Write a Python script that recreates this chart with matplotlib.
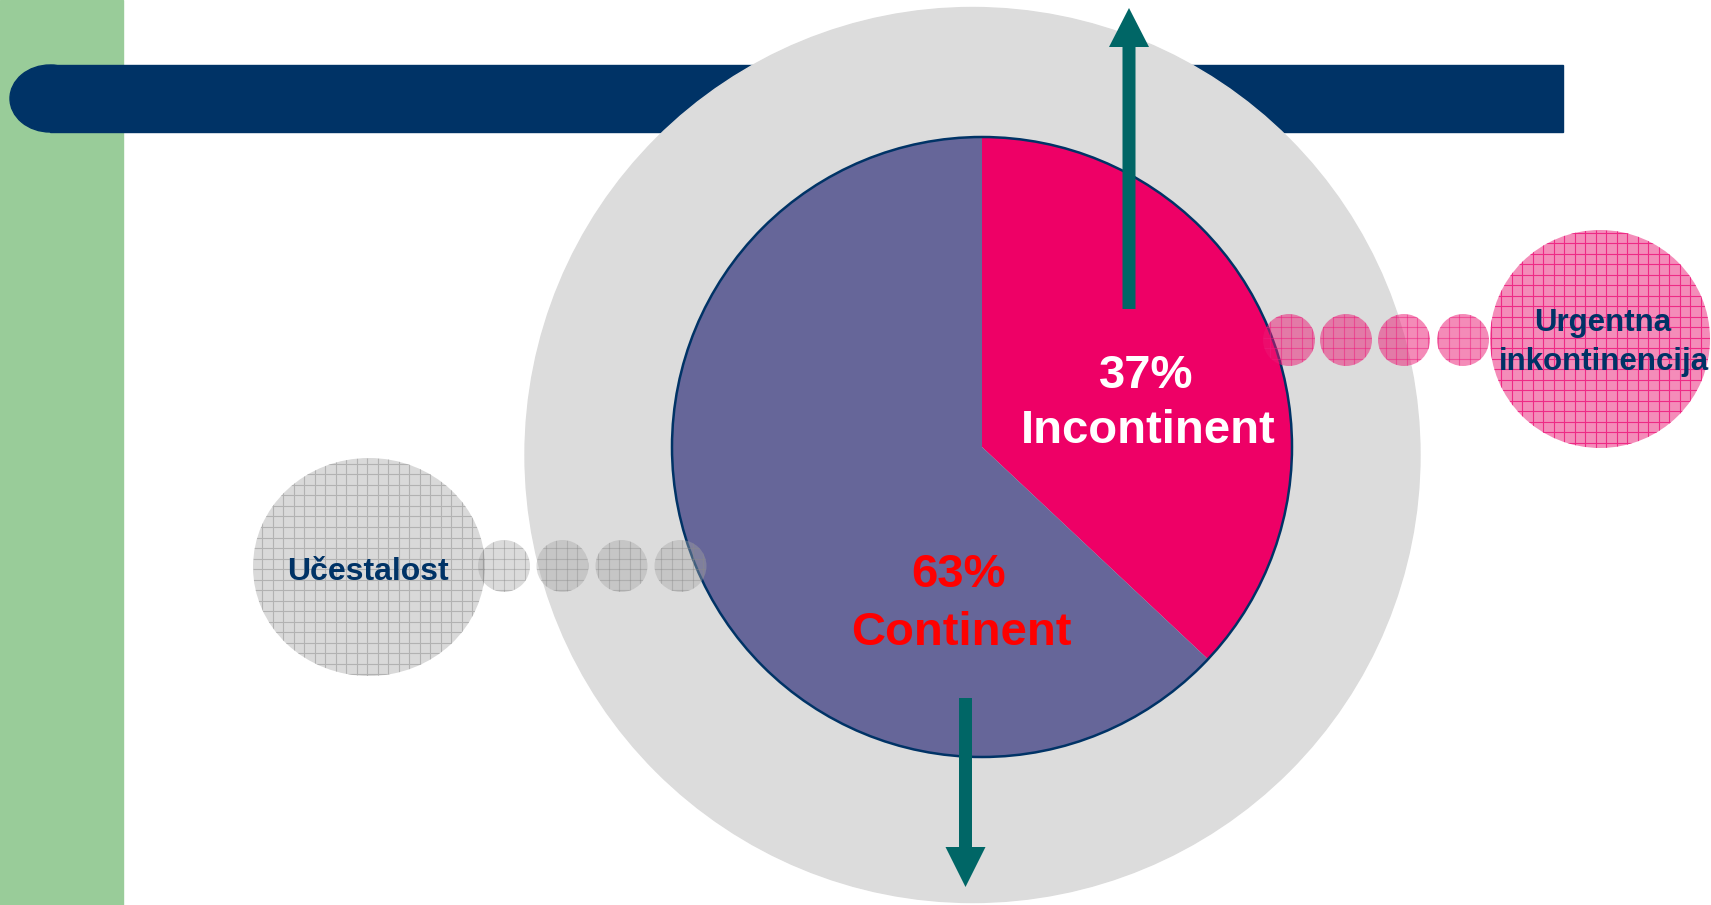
"""Incontinence share pie with frequency / urgency bubbles."""

import matplotlib

matplotlib.use("Agg")
import matplotlib.pyplot as plt
import numpy as np
from matplotlib.collections import LineCollection
from matplotlib.patches import Circle, Ellipse, Rectangle

W, H = 1711, 905

shares = [37, 63]
share_names = ["Incontinent", "Continent"]
share_colors = ["#EE0066", "#666699"]
share_text_colors = ["white", "#FF0000"]
left_topic = "Učestalost"
right_topic = ["Urgentna", "inkontinencija"]

NAVY = "#003366"
TEAL = "#006666"
GREEN = "#99CC99"
RING = "#DCDCDC"

plt.rcParams["font.family"] = ["Liberation Sans", "DejaVu Sans"]
plt.rcParams["font.weight"] = "bold"


def grid_fill(ax, patch, cx, cy, w, h, color, step=10.5, lw=0.8, alpha=1.0):
    """Square grid texture clipped to a patch."""
    xs = np.arange(np.ceil((cx - w / 2) / step) * step, cx + w / 2, step)
    ys = np.arange(np.ceil((cy - h / 2) / step) * step, cy + h / 2, step)
    segs = [[(x, cy - h / 2), (x, cy + h / 2)] for x in xs]
    segs += [[(cx - w / 2, y), (cx + w / 2, y)] for y in ys]
    lc = LineCollection(segs, colors=color, linewidths=lw, alpha=alpha,
                        zorder=patch.get_zorder() + 0.05)
    ax.add_collection(lc)
    lc.set_clip_path(patch)


def bubble(ax, cx, cy, w, h, face, line, alpha=1.0, z=4):
    e = Ellipse((cx, cy), w, h, facecolor=face, edgecolor="none", alpha=alpha, zorder=z)
    ax.add_patch(e)
    grid_fill(ax, e, cx, cy, w, h, line, alpha=alpha)
    return e


fig = plt.figure(figsize=(W / 100, H / 100), dpi=100)
ax = fig.add_axes([0, 0, 1, 1])

# background bands
ax.add_patch(Rectangle((0, 0), 123, H, color=GREEN, zorder=0))
ax.add_patch(Rectangle((50, H - 132), 1563 - 50, 67, color=NAVY, zorder=0.5))
ax.add_patch(Ellipse((50, H - 98.5), 80, 67, color=NAVY, zorder=0.5))

# big ring behind the pie
ax.add_patch(Circle((972.5, H - 455), 447.5, color=RING, zorder=1))

# pie
pie_c = (982, H - 447)
pie_r = 310
ax.pie(shares, colors=share_colors, startangle=90, counterclock=False,
       center=pie_c, radius=pie_r, wedgeprops=dict(linewidth=0, zorder=3))
ax.add_patch(Circle(pie_c, pie_r, fill=False, edgecolor=NAVY, linewidth=1.8, zorder=3.2))

# left bubble chain
bubble(ax, 369, H - 567, 232, 218, "#D9D9D9", "#B2B2B2")
for x in [504, 562.5, 621.5, 680.5]:
    bubble(ax, x, H - 566, 52, 52, "#A5A5A5", "#8A8A8A", alpha=0.4, z=5)

# right bubble chain
bubble(ax, 1600, H - 339, 220, 218, "#F48CB9", "#EE2A85")
for x in [1289, 1346, 1404, 1463]:
    bubble(ax, x, H - 340, 52, 52, "#EB1973", "#EE1C7E", alpha=0.5, z=5)

# arrows
ax.arrow(1129, H - 309, 0, 301, width=13, head_width=40, head_length=39,
         length_includes_head=True, color=TEAL, linewidth=0, zorder=6)
ax.arrow(965.5, H - 698, 0, -189, width=13, head_width=40, head_length=40,
         length_includes_head=True, color=TEAL, linewidth=0, zorder=6)

# pie labels
label_pos = [((1146, H - 388), (1148, H - 443)), ((959, H - 587), (961, H - 645))]
for val, name, col, (p1, p2) in zip(shares, share_names, share_text_colors, label_pos):
    ax.text(*p1, f"{val}%", ha="center", va="baseline", fontsize=34, color=col, zorder=7)
    ax.text(*p2, name, ha="center", va="baseline", fontsize=34, color=col, zorder=7)

ax.text(368, H - 580, left_topic, ha="center", va="baseline", fontsize=23, color=NAVY, zorder=7)
ax.text(1603, H - 331, right_topic[0], ha="center", va="baseline", fontsize=22.5, color=NAVY, zorder=7)
ax.text(1604, H - 370, right_topic[1], ha="center", va="baseline", fontsize=22.5, color=NAVY, zorder=7)

ax.set_xlim(0, W)
ax.set_ylim(0, H)
ax.set_aspect("auto")
ax.axis("off")

fig.savefig("out.png", dpi=100, facecolor="white")
